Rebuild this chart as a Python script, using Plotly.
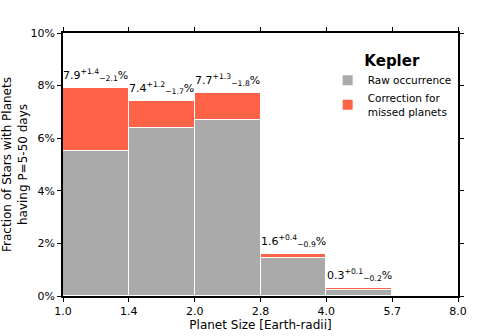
import plotly.graph_objects as go

bins = ["1.0", "1.4", "2.0", "2.8", "4.0", "5.7", "8.0"]
raw = [5.5, 6.4, 6.7, 1.45, 0.22, 0.0]
total = [7.9, 7.4, 7.7, 1.6, 0.3, None]
labels = ["7.9<sup>+1.4</sup><sub>−2.1</sub>%", "7.4<sup>+1.2</sup><sub>−1.7</sub>%",
          "7.7<sup>+1.3</sup><sub>−1.8</sub>%", "1.6<sup>+0.4</sup><sub>−0.9</sub>%",
          "0.3<sup>+0.1</sup><sub>−0.2</sub>%", None]
yticks = [0, 2, 4, 6, 8, 10]
ytext = ["0%", "2%", "4%", "6%", "8%", "10%"]

centers = [i + 0.5 for i in range(len(raw))]
corr = [(t - r) if t is not None else 0 for t, r in zip(total, raw)]

font = "DejaVu Sans"
fig = go.Figure()
fig.add_trace(go.Bar(x=centers, y=raw, width=1, name="Raw occurrence",
                     marker=dict(color="#aaaaaa", line=dict(color="white", width=1))))
fig.add_trace(go.Bar(x=centers, y=corr, width=1, name="Correction for<br>missed planets",
                     marker=dict(color="#ff6347", line=dict(color="white", width=1))))
for c, t, l in zip(centers, total, labels):
    if t is None:
        continue
    fig.add_annotation(x=c, y=t, text=l, showarrow=False, yanchor="bottom", yshift=3,
                       font=dict(size=11, color="black", family=font))

fig.update_layout(
    barmode="stack", bargap=0,
    width=500, height=336,
    margin=dict(l=63, r=42, t=33, b=40, autoexpand=False),
    plot_bgcolor="white", paper_bgcolor="white",
    font=dict(family=font, size=11, color="black"),
    legend=dict(x=0.67, y=0.95, xanchor="left", yanchor="top", traceorder="normal",
                bgcolor="rgba(255,255,255,0)",
                title=dict(text="<b>Kepler</b>", font=dict(size=15), side="top center"),
                font=dict(size=10.5), itemwidth=30, itemsizing="constant"),
    xaxis=dict(range=[0, 6], tickvals=list(range(7)), ticktext=bins, automargin=False,
               title=dict(text="Planet Size [Earth-radii]", font=dict(size=12), standoff=4),
               showline=True, linecolor="black", linewidth=1.5, mirror="ticks",
               ticks="outside", ticklen=4, tickcolor="black", showgrid=False, zeroline=False),
    yaxis=dict(range=[0, 10], tickvals=yticks, ticktext=ytext, automargin=False,
               title=dict(text="Fraction of Stars with Planets<br>having P=5-50 days", font=dict(size=12), standoff=4),
               showline=True, linecolor="black", linewidth=1.5, mirror="ticks",
               ticks="outside", ticklen=4, tickcolor="black", showgrid=False, zeroline=False),
)
fig.write_html("out.html")
